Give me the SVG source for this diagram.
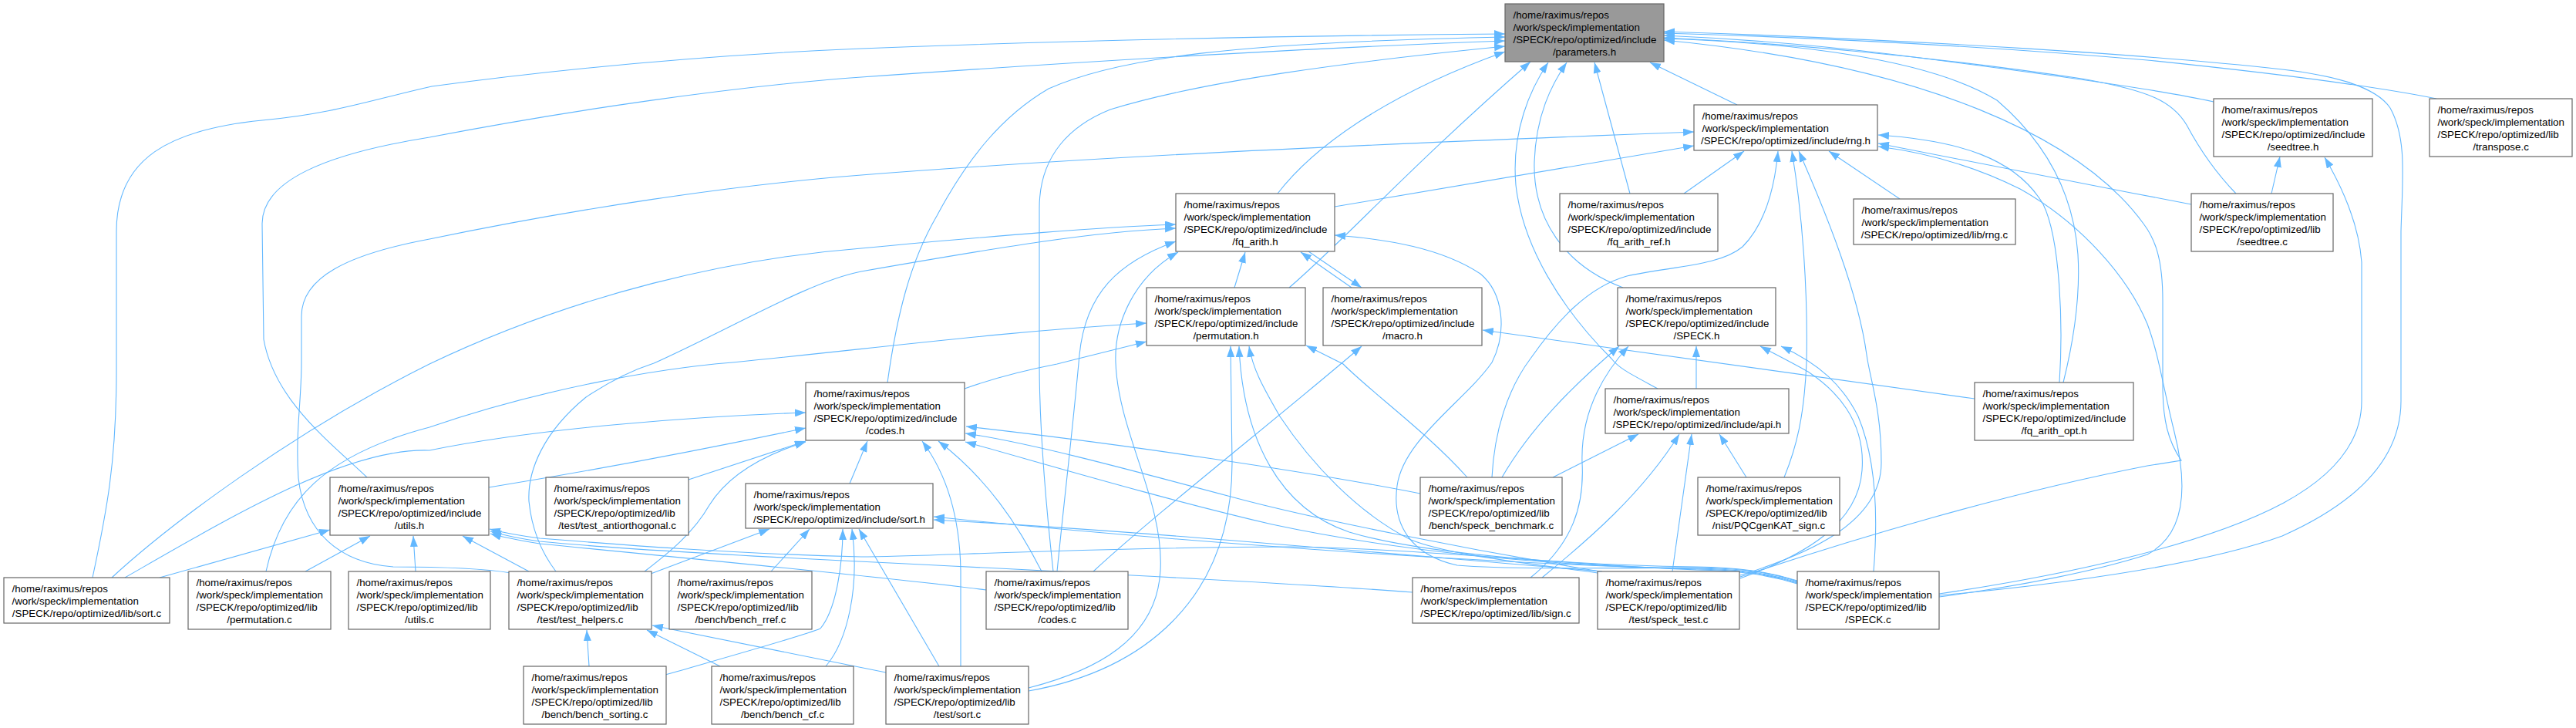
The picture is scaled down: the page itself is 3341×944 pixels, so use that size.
<svg xmlns="http://www.w3.org/2000/svg" width="3341" height="944" viewBox="0 0 3341 944">
<defs>
<marker id="ah" viewBox="0 0 14 10" refX="14" refY="5" markerWidth="14" markerHeight="10" markerUnits="userSpaceOnUse" orient="auto"><path d="M0,0 L14,5 L0,10 z" fill="#63b8ff"/></marker>
<style>
.n rect{fill:#ffffff;stroke:#666666;stroke-width:1.2}
.g rect{fill:#999999;stroke:#666666;stroke-width:1.2}
text{font-family:'Liberation Sans',Arial,Helvetica,sans-serif;font-size:13.33px;fill:#000000}
.c{text-anchor:middle}
#edges path{fill:none;stroke:#63b8ff;stroke-width:1.1;marker-end:url(#ah)}
</style>
</defs>
<rect x="0" y="0" width="3341" height="944" fill="#ffffff"/>
<g id="edges">
<path d="M120,749 C138,665 151,600 151,480 L151,300 C151,205 220,168 340,156 C430,148 480,130 560,112 C760,85 950,70 1117,63 C1400,52 1700,46 1952,44"/>
<path d="M476,619 C430,575 356,520 342,440 L340,290 C340,235 420,200 557,178 C740,143 950,112 1117,100 C1400,80 1700,62 1952,53"/>
<path d="M1151,496 C1163,410 1180,340 1215,280 C1255,205 1300,150 1360,115 C1450,75 1600,55 1952,48"/>
<path d="M1366,741 C1356,650 1348,560 1348,470 L1348,270 C1348,200 1390,162 1440,142 C1560,105 1750,80 1952,60"/>
<path d="M1657,251 C1700,195 1790,125 1952,67"/>
<path d="M1672,373 C1740,315 1830,215 1985,80"/>
<path d="M2150,504 C2115,485 2100,478 2090,465 C2025,400 1975,320 1966,240 C1960,170 1985,115 2008,81"/>
<path d="M2105,373 C2030,345 1988,285 1990,210 C1992,150 2012,110 2032,81"/>
<path d="M2114,251 L2068,81"/>
<path d="M2253,136 L2140,81"/>
<path d="M3160,128 C3100,116 3000,100 2785,78 C2600,62 2400,50 2158,43"/>
<path d="M2871,132 C2800,116 2650,95 2450,70 C2350,58 2250,50 2158,46"/>
<path d="M2900,251 C2872,222 2852,192 2836,162 C2818,132 2790,118 2700,102 C2500,72 2300,55 2158,49"/>
<path d="M2515,772 C2650,760 2850,735 2960,695 C3050,655 3114,600 3114,520 L3114,300 C3116,230 3122,180 3100,140 C3080,110 3020,97 2960,90 C2800,72 2500,52 2158,41"/>
<path d="M2676,496 C2690,440 2698,380 2695,330 C2690,260 2660,190 2590,130 C2500,75 2320,55 2158,50"/>
<path d="M2257,748 C2400,700 2600,640 2785,604 L2829,597 C2812,572 2805,545 2805,500 L2805,390 C2805,335 2795,310 2780,290 C2700,180 2500,85 2158,52"/>
<path d="M1731,268 L2197,189"/>
<path d="M663,743 C620,736 560,735 510,735 C440,730 395,690 387,620 C383,560 391,520 391,470 L391,410 C391,360 450,330 557,310 C750,270 950,240 1117,227 C1400,205 1700,190 2197,171"/>
<path d="M2184,251 L2262,196"/>
<path d="M2464,258 L2372,196"/>
<path d="M1935,619 C1938,560 1955,505 1985,465 C2020,415 2060,372 2110,358 C2170,345 2230,345 2260,320 C2290,290 2302,240 2306,196"/>
<path d="M2314,619 C2330,580 2340,540 2343,470 C2345,380 2338,280 2324,196"/>
<path d="M2257,746 C2340,720 2440,680 2440,600 C2440,530 2425,490 2421,460 C2410,380 2370,280 2333,196"/>
<path d="M2515,774 C2620,760 2720,740 2785,719 C2840,690 2835,620 2820,560 C2805,500 2800,460 2785,420 C2760,360 2700,290 2620,245 C2560,215 2500,198 2436,190"/>
<path d="M2842,265 C2700,238 2550,208 2436,186"/>
<path d="M2671,496 C2676,420 2672,310 2650,265 C2615,205 2540,182 2436,175"/>
<path d="M2946,251 L2957,203"/>
<path d="M2515,770 C2650,750 2850,712 2962,652 C3030,615 3063,570 3063,520 L3063,340 C3060,300 3045,255 3015,204"/>
<path d="M1697,326 L1766,373"/>
<path d="M1753,373 L1687,327"/>
<path d="M1601,373 L1615,327"/>
<path d="M1418,741 C1500,665 1660,540 1766,449"/>
<path d="M2561,517 L1923,428"/>
<path d="M1251,504 C1290,490 1340,478 1371,472 C1410,462 1450,452 1487,443"/>
<path d="M345,741 C365,650 420,590 557,554 C700,505 850,478 950,470 C1150,450 1300,430 1487,419"/>
<path d="M1334,896 C1480,870 1598,780 1598,600 L1596,449"/>
<path d="M1903,619 C1850,560 1780,510 1742,472 L1694,448"/>
<path d="M2072,743 C1980,730 1880,720 1830,700 C1760,665 1700,600 1660,540 C1640,505 1625,480 1620,449"/>
<path d="M2331,753 C2290,740 2250,736 2200,735 C2050,733 1850,720 1750,690 C1660,660 1612,570 1607,449"/>
<path d="M2331,754 C2290,740 2250,737 2200,736 C2050,737 1950,738 1890,733 C1830,720 1805,680 1812,630 C1820,570 1900,520 1935,470 C1955,430 1950,380 1920,355 C1870,322 1800,310 1731,305"/>
<path d="M2331,755 C2290,742 2250,738 2200,737 C2000,735 1800,712 1650,680 C1500,645 1350,600 1252,573"/>
<path d="M2331,756 C2290,743 2250,739 2200,738 C1900,730 1500,700 1211,670"/>
<path d="M2331,757 C2290,744 2250,740 2200,739 C2000,730 1850,712 1674,709 C1400,710 1200,722 1117,722 C950,718 800,706 700,698 C670,694 650,690 635,686"/>
<path d="M1832,768 C1700,758 1400,742 1114,728 C950,720 800,712 700,702 C670,698 650,693 636,689"/>
<path d="M1279,765 C1150,748 900,725 700,705 C670,700 650,696 636,692"/>
<path d="M2075,741 C1900,712 1700,672 1600,645 C1450,605 1330,573 1252,562"/>
<path d="M2078,741 C1800,718 1500,690 1211,674"/>
<path d="M1842,640 C1700,612 1450,575 1253,553"/>
<path d="M1948,619 C1985,555 2040,500 2100,449"/>
<path d="M1985,749 C2040,705 2055,655 2052,600 C2050,540 2075,490 2112,449"/>
<path d="M2014,619 L2125,563"/>
<path d="M2000,749 C2060,700 2130,640 2178,563"/>
<path d="M2169,741 L2194,563"/>
<path d="M2265,619 L2230,563"/>
<path d="M2200,504 L2200,449"/>
<path d="M2257,750 C2340,720 2410,680 2415,610 C2420,545 2380,505 2345,482 C2320,468 2300,458 2283,449"/>
<path d="M2430,741 C2435,680 2435,600 2410,540 C2390,500 2360,472 2310,449"/>
<path d="M145,749 C220,680 380,560 557,472 C750,380 950,335 1117,322 C1300,305 1420,295 1525,291"/>
<path d="M721,741 C705,720 690,690 686,650 C684,610 705,560 760,515 C790,495 820,480 848,471 C950,425 1050,365 1117,352 C1300,320 1420,300 1525,296"/>
<path d="M1371,741 C1380,650 1392,550 1400,460 C1408,380 1450,340 1525,313"/>
<path d="M1334,892 C1420,870 1500,830 1505,740 C1510,650 1450,560 1447,470 C1445,420 1470,360 1528,327"/>
<path d="M539,741 L536,695"/>
<path d="M396,741 L480,695"/>
<path d="M207,749 L428,687"/>
<path d="M686,741 L600,695"/>
<path d="M634,632 C800,605 950,575 1045,555"/>
<path d="M162,749 C300,670 450,580 557,584 C700,555 900,540 1045,535"/>
<path d="M893,622 L1045,572"/>
<path d="M836,741 C870,715 900,690 920,655 C945,615 990,590 1045,573"/>
<path d="M1102,627 L1125,572"/>
<path d="M1246,864 L1246,740 C1245,680 1232,620 1196,572"/>
<path d="M1351,741 C1320,680 1280,620 1217,572"/>
<path d="M844,744 L998,686"/>
<path d="M1000,741 L1050,686"/>
<path d="M863,875 C950,850 1040,825 1064,815 C1085,790 1093,730 1093,686"/>
<path d="M1071,864 C1100,830 1115,760 1105,686"/>
<path d="M1218,864 L1114,686"/>
<path d="M764,864 L761,817"/>
<path d="M934,864 L839,817"/>
<path d="M1149,872 C1050,852 950,832 846,811"/>
</g>
<g id="n_parameters_h" class="g"><rect x="1952" y="5" width="206" height="75"/><text x="1962.5" y="23.5">/home/raximus/repos</text><text x="1962.5" y="39.5">/work/speck/implementation</text><text x="1962.5" y="55.5">/SPECK/repo/optimized/include</text><text class="c" x="2055" y="71.5">/parameters.h</text></g>
<g id="n_rng_h" class="n"><rect x="2197" y="136" width="238" height="59"/><text x="2207.5" y="154.5">/home/raximus/repos</text><text x="2207.5" y="170.5">/work/speck/implementation</text><text class="c" x="2316" y="186.5">/SPECK/repo/optimized/include/rng.h</text></g>
<g id="n_seedtree_h" class="n"><rect x="2871" y="128" width="206" height="75"/><text x="2881.5" y="146.5">/home/raximus/repos</text><text x="2881.5" y="162.5">/work/speck/implementation</text><text x="2881.5" y="178.5">/SPECK/repo/optimized/include</text><text class="c" x="2974" y="194.5">/seedtree.h</text></g>
<g id="n_transpose_c" class="n"><rect x="3151" y="128" width="185" height="75"/><text x="3161.5" y="146.5">/home/raximus/repos</text><text x="3161.5" y="162.5">/work/speck/implementation</text><text x="3161.5" y="178.5">/SPECK/repo/optimized/lib</text><text class="c" x="3243.5" y="194.5">/transpose.c</text></g>
<g id="n_fq_arith_h" class="n"><rect x="1525" y="251" width="206" height="75"/><text x="1535.5" y="269.5">/home/raximus/repos</text><text x="1535.5" y="285.5">/work/speck/implementation</text><text x="1535.5" y="301.5">/SPECK/repo/optimized/include</text><text class="c" x="1628" y="317.5">/fq_arith.h</text></g>
<g id="n_fq_arith_ref_h" class="n"><rect x="2023" y="251" width="205" height="75"/><text x="2033.5" y="269.5">/home/raximus/repos</text><text x="2033.5" y="285.5">/work/speck/implementation</text><text x="2033.5" y="301.5">/SPECK/repo/optimized/include</text><text class="c" x="2125.5" y="317.5">/fq_arith_ref.h</text></g>
<g id="n_rng_c" class="n"><rect x="2404" y="258" width="210" height="59"/><text x="2414.5" y="276.5">/home/raximus/repos</text><text x="2414.5" y="292.5">/work/speck/implementation</text><text class="c" x="2509" y="308.5">/SPECK/repo/optimized/lib/rng.c</text></g>
<g id="n_seedtree_c" class="n"><rect x="2842" y="251" width="184" height="75"/><text x="2852.5" y="269.5">/home/raximus/repos</text><text x="2852.5" y="285.5">/work/speck/implementation</text><text x="2852.5" y="301.5">/SPECK/repo/optimized/lib</text><text class="c" x="2934" y="317.5">/seedtree.c</text></g>
<g id="n_permutation_h" class="n"><rect x="1487" y="373" width="206" height="75"/><text x="1497.5" y="391.5">/home/raximus/repos</text><text x="1497.5" y="407.5">/work/speck/implementation</text><text x="1497.5" y="423.5">/SPECK/repo/optimized/include</text><text class="c" x="1590" y="439.5">/permutation.h</text></g>
<g id="n_macro_h" class="n"><rect x="1716" y="373" width="206" height="75"/><text x="1726.5" y="391.5">/home/raximus/repos</text><text x="1726.5" y="407.5">/work/speck/implementation</text><text x="1726.5" y="423.5">/SPECK/repo/optimized/include</text><text class="c" x="1819" y="439.5">/macro.h</text></g>
<g id="n_SPECK_h" class="n"><rect x="2098" y="373" width="205" height="75"/><text x="2108.5" y="391.5">/home/raximus/repos</text><text x="2108.5" y="407.5">/work/speck/implementation</text><text x="2108.5" y="423.5">/SPECK/repo/optimized/include</text><text class="c" x="2200.5" y="439.5">/SPECK.h</text></g>
<g id="n_codes_h" class="n"><rect x="1045" y="496" width="206" height="75"/><text x="1055.5" y="514.5">/home/raximus/repos</text><text x="1055.5" y="530.5">/work/speck/implementation</text><text x="1055.5" y="546.5">/SPECK/repo/optimized/include</text><text class="c" x="1148" y="562.5">/codes.h</text></g>
<g id="n_api_h" class="n"><rect x="2082" y="504" width="238" height="58"/><text x="2092.5" y="522.5">/home/raximus/repos</text><text x="2092.5" y="538.5">/work/speck/implementation</text><text class="c" x="2201" y="554.5">/SPECK/repo/optimized/include/api.h</text></g>
<g id="n_fq_arith_opt_h" class="n"><rect x="2561" y="496" width="206" height="75"/><text x="2571.5" y="514.5">/home/raximus/repos</text><text x="2571.5" y="530.5">/work/speck/implementation</text><text x="2571.5" y="546.5">/SPECK/repo/optimized/include</text><text class="c" x="2664" y="562.5">/fq_arith_opt.h</text></g>
<g id="n_utils_h" class="n"><rect x="428" y="619" width="206" height="75"/><text x="438.5" y="637.5">/home/raximus/repos</text><text x="438.5" y="653.5">/work/speck/implementation</text><text x="438.5" y="669.5">/SPECK/repo/optimized/include</text><text class="c" x="531" y="685.5">/utils.h</text></g>
<g id="n_test_antiorthogonal_c" class="n"><rect x="708" y="619" width="185" height="75"/><text x="718.5" y="637.5">/home/raximus/repos</text><text x="718.5" y="653.5">/work/speck/implementation</text><text x="718.5" y="669.5">/SPECK/repo/optimized/lib</text><text class="c" x="800.5" y="685.5">/test/test_antiorthogonal.c</text></g>
<g id="n_sort_h" class="n"><rect x="967" y="627" width="243" height="58"/><text x="977.5" y="645.5">/home/raximus/repos</text><text x="977.5" y="661.5">/work/speck/implementation</text><text class="c" x="1088.5" y="677.5">/SPECK/repo/optimized/include/sort.h</text></g>
<g id="n_speck_benchmark_c" class="n"><rect x="1842" y="619" width="184" height="75"/><text x="1852.5" y="637.5">/home/raximus/repos</text><text x="1852.5" y="653.5">/work/speck/implementation</text><text x="1852.5" y="669.5">/SPECK/repo/optimized/lib</text><text class="c" x="1934" y="685.5">/bench/speck_benchmark.c</text></g>
<g id="n_PQCgenKAT_sign_c" class="n"><rect x="2202" y="619" width="184" height="75"/><text x="2212.5" y="637.5">/home/raximus/repos</text><text x="2212.5" y="653.5">/work/speck/implementation</text><text x="2212.5" y="669.5">/SPECK/repo/optimized/lib</text><text class="c" x="2294" y="685.5">/nist/PQCgenKAT_sign.c</text></g>
<g id="n_sort_c" class="n"><rect x="5" y="749" width="215" height="59"/><text x="15.5" y="767.5">/home/raximus/repos</text><text x="15.5" y="783.5">/work/speck/implementation</text><text class="c" x="112.5" y="799.5">/SPECK/repo/optimized/lib/sort.c</text></g>
<g id="n_permutation_c" class="n"><rect x="244" y="741" width="185" height="75"/><text x="254.5" y="759.5">/home/raximus/repos</text><text x="254.5" y="775.5">/work/speck/implementation</text><text x="254.5" y="791.5">/SPECK/repo/optimized/lib</text><text class="c" x="336.5" y="807.5">/permutation.c</text></g>
<g id="n_utils_c" class="n"><rect x="452" y="741" width="184" height="75"/><text x="462.5" y="759.5">/home/raximus/repos</text><text x="462.5" y="775.5">/work/speck/implementation</text><text x="462.5" y="791.5">/SPECK/repo/optimized/lib</text><text class="c" x="544" y="807.5">/utils.c</text></g>
<g id="n_test_helpers_c" class="n"><rect x="660" y="741" width="185" height="75"/><text x="670.5" y="759.5">/home/raximus/repos</text><text x="670.5" y="775.5">/work/speck/implementation</text><text x="670.5" y="791.5">/SPECK/repo/optimized/lib</text><text class="c" x="752.5" y="807.5">/test/test_helpers.c</text></g>
<g id="n_bench_rref_c" class="n"><rect x="868" y="741" width="185" height="75"/><text x="878.5" y="759.5">/home/raximus/repos</text><text x="878.5" y="775.5">/work/speck/implementation</text><text x="878.5" y="791.5">/SPECK/repo/optimized/lib</text><text class="c" x="960.5" y="807.5">/bench/bench_rref.c</text></g>
<g id="n_codes_c" class="n"><rect x="1279" y="741" width="184" height="75"/><text x="1289.5" y="759.5">/home/raximus/repos</text><text x="1289.5" y="775.5">/work/speck/implementation</text><text x="1289.5" y="791.5">/SPECK/repo/optimized/lib</text><text class="c" x="1371" y="807.5">/codes.c</text></g>
<g id="n_sign_c" class="n"><rect x="1832" y="749" width="216" height="59"/><text x="1842.5" y="767.5">/home/raximus/repos</text><text x="1842.5" y="783.5">/work/speck/implementation</text><text class="c" x="1940" y="799.5">/SPECK/repo/optimized/lib/sign.c</text></g>
<g id="n_speck_test_c" class="n"><rect x="2072" y="741" width="184" height="75"/><text x="2082.5" y="759.5">/home/raximus/repos</text><text x="2082.5" y="775.5">/work/speck/implementation</text><text x="2082.5" y="791.5">/SPECK/repo/optimized/lib</text><text class="c" x="2164" y="807.5">/test/speck_test.c</text></g>
<g id="n_SPECK_c" class="n"><rect x="2331" y="741" width="184" height="75"/><text x="2341.5" y="759.5">/home/raximus/repos</text><text x="2341.5" y="775.5">/work/speck/implementation</text><text x="2341.5" y="791.5">/SPECK/repo/optimized/lib</text><text class="c" x="2423" y="807.5">/SPECK.c</text></g>
<g id="n_bench_sorting_c" class="n"><rect x="679" y="864" width="185" height="75"/><text x="689.5" y="882.5">/home/raximus/repos</text><text x="689.5" y="898.5">/work/speck/implementation</text><text x="689.5" y="914.5">/SPECK/repo/optimized/lib</text><text class="c" x="771.5" y="930.5">/bench/bench_sorting.c</text></g>
<g id="n_bench_cf_c" class="n"><rect x="923" y="864" width="184" height="75"/><text x="933.5" y="882.5">/home/raximus/repos</text><text x="933.5" y="898.5">/work/speck/implementation</text><text x="933.5" y="914.5">/SPECK/repo/optimized/lib</text><text class="c" x="1015" y="930.5">/bench/bench_cf.c</text></g>
<g id="n_test_sort_c" class="n"><rect x="1149" y="864" width="185" height="75"/><text x="1159.5" y="882.5">/home/raximus/repos</text><text x="1159.5" y="898.5">/work/speck/implementation</text><text x="1159.5" y="914.5">/SPECK/repo/optimized/lib</text><text class="c" x="1241.5" y="930.5">/test/sort.c</text></g>
</svg>
